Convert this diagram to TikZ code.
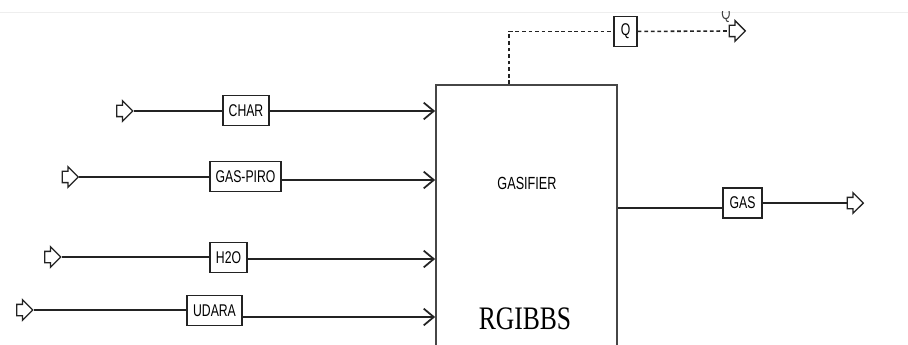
\documentclass[tikz,border=0pt]{standalone}
\usepackage{fontspec}
\newfontfamily\labelfont{Liberation Sans}[FakeStretch=0.72]
\newfontfamily\blockfont{Liberation Serif}[FakeStretch=0.78]
\usetikzlibrary{arrows.meta,shapes.arrows}
\definecolor{linegray}{RGB}{35,35,35}
\definecolor{framegray}{RGB}{70,70,70}
\definecolor{edgegray}{RGB}{238,238,238}
\tikzset{
  strbox/.style={draw=linegray,line width=1.2pt,minimum height=0.9cm,inner xsep=4pt,inner ysep=0pt,
    font=\labelfont\fontsize{14.5}{16}\selectfont,text=black,fill=white},
  portarrow/.style={single arrow,draw=linegray,fill=white,line width=1.1pt,minimum height=0.48cm,
    single arrow head extend=0.14cm,inner xsep=0pt,inner ysep=0.15cm},
  blockbox/.style={draw=framegray,line width=1.5pt,minimum width=5.43cm,minimum height=8.55cm,inner sep=0pt},
  feed/.style={line width=1.2pt,draw=linegray},
  feedin/.style={feed,-{Straight Barb[length=3mm,width=5mm,line width=1.5pt]}},
  heat/.style={line width=1.35pt,draw=linegray,dash pattern=on 3.2pt off 2.4pt},
  blocklabel/.style={inner sep=0pt,text=black}
}
\begin{document}
\begin{tikzpicture}[x=0.03cm,y=-0.03cm]
  \useasboundingbox (0,0) rectangle (908,345);
  \fill[white] (0,0) rectangle (908,345);
  \draw[edgegray,line width=0.6pt] (0,12) -- (908,12);
  \node[blockbox] (blk) at (526.5,227.5) {};
  \node[blocklabel,font=\labelfont\fontsize{15}{17}\selectfont] (blkname) at (527,183.5) {GASIFIER};
  \node[blocklabel,font=\blockfont\fontsize{28}{30}\selectfont] (blktype) at (525,319) {RGIBBS};
  \coordinate (pchar) at (437,111);
  \coordinate (ppiro) at (437,180);
  \coordinate (ph2o) at (437,259);
  \coordinate (pudara) at (437,317);
  \coordinate (pgas) at (617,208);
  \coordinate (qup) at (509,31);
  \node[portarrow] (achar) at (122,111) {};
  \node[portarrow] (apiro) at (67.5,177) {};
  \node[portarrow] (ah2o) at (50,257) {};
  \node[portarrow] (audara) at (22,310) {};
  \node[portarrow] (agas) at (852.5,203) {};
  \node[portarrow] (aq) at (734.5,31) {};
  \node[strbox,minimum width=1.38cm] (char) at (246,110.5) {CHAR};
  \node[strbox,minimum width=2.13cm] (piro) at (245.5,176.5) {GAS-PIRO};
  \node[strbox,minimum width=1.11cm] (h2o) at (228.5,257.5) {H2O};
  \node[strbox,minimum width=1.65cm] (udara) at (214.5,310.5) {UDARA};
  \node[strbox,minimum width=1.17cm] (gas) at (742.5,203) {GAS};
  \node[strbox,minimum width=0.69cm] (q) at (625.5,31.5) {Q};
  \begin{scope}
    \clip (700,12) rectangle (760,40);
    \node[blocklabel,font=\labelfont\fontsize{14}{16}\selectfont,text=black!75] (qtag) at (726,15.5) {Q};
  \end{scope}
  \draw[feed] (achar.tip) -- (achar.tip -| char.west); \draw[feedin] (char.east |- pchar) -- (blk.west |- pchar);
  \draw[feed] (apiro.tip) -- (apiro.tip -| piro.west); \draw[feedin] (piro.east |- ppiro) -- (blk.west |- ppiro);
  \draw[feed] (ah2o.tip) -- (ah2o.tip -| h2o.west); \draw[feedin] (h2o.east |- ph2o) -- (blk.west |- ph2o);
  \draw[feed] (audara.tip) -- (audara.tip -| udara.west); \draw[feedin] (udara.east |- pudara) -- (blk.west |- pudara);
  \draw[feed] (blk.east |- pgas) -- (gas.west |- pgas); \draw[feed] (gas) -- (agas.tail);
  \draw[heat] (blk.north -| qup) |- (q); \draw[heat] (q) -- (aq.tail);
\end{tikzpicture}
\end{document}
